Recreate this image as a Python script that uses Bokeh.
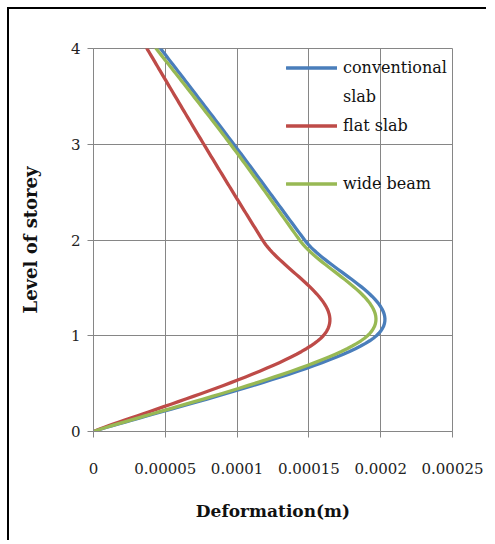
import numpy as np
from bokeh.plotting import figure
from bokeh.models import (Range1d, FixedTicker, Legend, LegendItem, ColumnDataSource)
from bokeh.embed import file_html
from bokeh.resources import INLINE

# ---- data ----
storey = [0, 1, 2, 3, 4]
conventional_slab = [0, 0.000197, 0.000147, 0.0000977, 0.0000467]
flat_slab = [0, 0.000160, 0.0001177, 0.0000768, 0.0000372]
wide_beam = [0, 0.0001908, 0.0001435, 0.0000954, 0.0000436]

series_names = ["conventional", "flat slab", "wide beam"]
series_colors = ["#4A7EBB", "#BE4B48", "#98B954"]

x_ticks = [0, 0.00005, 0.0001, 0.00015, 0.0002, 0.00025]
x_tick_labels = ["0", "0.00005", "0.0001", "0.00015", "0.0002", "0.00025"]
y_ticks = [0, 1, 2, 3, 4]
y_tick_labels = ["0", "1", "2", "3", "4"]


def smooth(xs, ys, n=40):
    """Spreadsheet-style smoothed line (Bezier, 1/6 tangent factor)."""
    P = np.column_stack([xs, ys]).astype(float)
    m = len(P)
    out = [P[0]]
    t = np.linspace(0, 1, n)[1:, None]
    for i in range(m - 1):
        p0 = P[max(i - 1, 0)]
        p1 = P[i]
        p2 = P[i + 1]
        p3 = P[min(i + 2, m - 1)]
        c1 = p1 + (p2 - p0) / 6.0
        c2 = p2 - (p3 - p1) / 6.0
        seg = ((1 - t) ** 3) * p1 + 3 * ((1 - t) ** 2) * t * c1 + 3 * (1 - t) * t ** 2 * c2 + t ** 3 * p2
        out.extend(seg)
    out = np.array(out)
    return out[:, 0], out[:, 1]


GRID = "#868686"
FONT = "DejaVu Serif"

p = figure(width=479, height=533,
           x_range=Range1d(0, 0.00025), y_range=Range1d(0, 4),
           output_backend="svg", toolbar_location=None,
           min_border_left=84, min_border_right=36,
           min_border_top=39, min_border_bottom=111,
           background_fill_color="white", border_fill_color="white",
           styles={"margin-left": "7px", "margin-top": "7px",
                   "border-left": "2px solid black", "border-top": "2px solid black"})

p.outline_line_color = GRID
p.outline_line_width = 1

# axes
p.xaxis.ticker = FixedTicker(ticks=x_ticks)
p.xaxis.major_label_overrides = dict(zip(x_ticks, x_tick_labels))
p.yaxis.ticker = FixedTicker(ticks=y_ticks)
p.yaxis.major_label_overrides = dict(zip(y_ticks, y_tick_labels))

for ax in (p.xaxis[0], p.yaxis[0]):
    ax.axis_line_color = GRID
    ax.major_tick_line_color = GRID
    ax.major_tick_out = 6
    ax.major_tick_in = 0
    ax.minor_tick_line_color = None
    ax.major_label_text_font = FONT
    ax.major_label_text_font_size = "15px"
    ax.major_label_text_color = "#222222"
    ax.axis_label_text_font = FONT
    ax.axis_label_text_font_style = "bold"
    ax.axis_label_text_color = "#111111"

p.xaxis.axis_label = "Deformation(m)"
p.xaxis.axis_label_text_font_size = "17px"
p.xaxis.major_label_standoff = 25
p.xaxis.axis_label_standoff = 24
p.yaxis.axis_label = "Level of storey"
p.yaxis.axis_label_text_font_size = "18px"
p.yaxis.major_label_standoff = 7
p.yaxis.axis_label_standoff = 27

p.xgrid.ticker = FixedTicker(ticks=x_ticks)
p.ygrid.ticker = FixedTicker(ticks=y_ticks)
p.xgrid.grid_line_color = GRID
p.ygrid.grid_line_color = GRID

renderers = []
for vals, color in zip([conventional_slab, flat_slab, wide_beam], series_colors):
    sx, sy = smooth(vals, storey)
    src = ColumnDataSource(dict(x=sx, y=sy))
    r = p.line("x", "y", source=src, line_color=color, line_width=3.3,
               line_join="round", line_cap="round")
    renderers.append(r)

blank = p.line(x=[], y=[], line_alpha=0)

legend = Legend(items=[
    LegendItem(label="conventional", renderers=[renderers[0]]),
    LegendItem(label="slab", renderers=[blank]),
    LegendItem(label="flat slab", renderers=[renderers[1]]),
    LegendItem(label=" ", renderers=[blank]),
    LegendItem(label="wide beam", renderers=[renderers[2]]),
], location=(193, 233))
legend.background_fill_alpha = 0
legend.border_line_alpha = 0
legend.padding = 0
legend.margin = 0
legend.spacing = 0
legend.glyph_width = 51
legend.glyph_height = 29
legend.label_height = 29
legend.label_standoff = 6
legend.label_text_font = FONT
legend.label_text_font_size = "16px"
legend.label_text_color = "#111111"
p.add_layout(legend, "center")

open("out.html", "w").write(file_html(p, INLINE))
